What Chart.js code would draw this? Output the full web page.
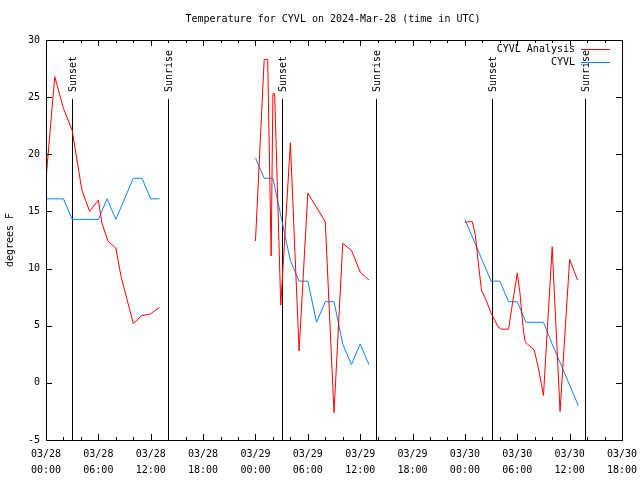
<!DOCTYPE html>
<html>
<head>
<meta charset="utf-8">
<script src="https://cdn.jsdelivr.net/npm/chart.js@4/dist/chart.umd.min.js"></script>
<style>
  html, body { margin: 0; padding: 0; background: #fff; }
  canvas { display: block; }
</style>
</head>
<body>
<canvas id="tempChart" width="640" height="480"></canvas>
<script>
// x values are hours since 03/28 00:00 UTC, null marks a gap in the record
const dayLabels = ['03/28', '03/29', '03/30'];

const analysisHours = [
    0, 1, 2, 3, 4.1, 5, 6, 6.4, 7.1, 8, 8.6, 10, 11, 11.9, 13,
    13.5,
    24, 25, 25.4, 25.8, 26, 26.2, 26.9, 28, 29, 30, 32, 33, 34, 35, 36, 37,
    37.5,
    48, 48.3, 48.85, 49.2, 49.5, 49.9, 50.5, 51, 51.8, 52.2, 53, 53.4, 54, 54.3,
    54.7, 54.9, 55.3, 55.8, 56, 56.5, 57, 58, 58.9, 60, 60.9
];
const analysisTemps = [
    17.8, 26.8, 24.0, 22.1, 16.9, 15.0, 16.0, 14.0, 12.4, 11.8, 9.3, 5.2, 5.9, 6.0, 6.6,
    null,
    12.4, 28.3, 28.3, 11.1, 25.3, 25.3, 6.8, 21.0, 2.8, 16.6, 14.1, -2.6, 12.2, 11.6, 9.7, 9.0,
    null,
    14.0, 14.1, 14.1, 12.9, 10.7, 8.1, 7.1, 6.1, 4.9, 4.7, 4.7, 6.7, 9.6, 7.9,
    4.6, 3.6, 3.3, 3.0, 2.7, 1.0, -1.1, 11.9, -2.5, 10.8, 9.0
];

const obsHours = [
    0, 1, 2, 3, 4, 5, 6, 7, 8, 9, 10, 11, 12, 13,
    13.5,
    24, 25, 26, 27, 28, 29, 30, 31, 32, 33, 34, 35, 36, 37,
    37.5,
    48, 49, 50, 51, 52, 53, 54, 55, 56, 57, 58, 59, 60, 61
];
const obsTemps = [
    16.1, 16.1, 16.1, 14.3, 14.3, 14.3, 14.3, 16.1, 14.3, 16.1, 17.9, 17.9, 16.1, 16.1,
    null,
    19.7, 17.9, 17.9, 14.3, 10.7, 8.9, 8.9, 5.3, 7.1, 7.1, 3.4, 1.6, 3.4, 1.6,
    null,
    14.3, 12.5, 10.7, 8.9, 8.9, 7.1, 7.1, 5.3, 5.3, 5.3, 3.4, 1.6, -0.2, -2.0
];

const sunsetHours = [3.02, 27.0, 51.05];
const sunriseHours = [13.93, 37.86, 61.75];

const FONT = '10px "DejaVu Sans Mono"';

function toPoints(hours, temps) {
    return hours.map((h, i) => ({ x: h, y: temps[i] }));
}

function crisp(v) {
    return Math.round(v) + 0.5;
}

// frame, inward ticks, sunrise/sunset markers, title, legend, axis title
const decorations = {
    id: 'decorations',
    beforeDatasetsDraw(chart) {
        const ctx = chart.ctx;
        const area = chart.chartArea;
        const xs = chart.scales.x;
        ctx.save();
        ctx.strokeStyle = '#000';
        ctx.fillStyle = '#000';
        ctx.lineWidth = 1;
        ctx.font = FONT;
        const marks = sunsetHours.map(h => [h, 'Sunset']).concat(sunriseHours.map(h => [h, 'Sunrise']));
        marks.forEach(([h, label]) => {
            const px = crisp(xs.getPixelForValue(h));
            ctx.beginPath();
            ctx.moveTo(px, 99);
            ctx.lineTo(px, area.bottom);
            ctx.stroke();
            ctx.save();
            ctx.translate(px + 1, 92);
            ctx.rotate(-Math.PI / 2);
            ctx.textAlign = 'left';
            ctx.textBaseline = 'middle';
            ctx.fillText(label, 0, 0);
            ctx.restore();
        });
        ctx.restore();
    },
    afterDraw(chart) {
        const ctx = chart.ctx;
        const area = chart.chartArea;
        const xs = chart.scales.x;
        const ys = chart.scales.y;
        ctx.save();
        ctx.strokeStyle = '#000';
        ctx.lineWidth = 1;

        ctx.beginPath();
        // x ticks, major every 6 h, minor every 2 h
        for (let h = 0; h <= 66; h += 2) {
            const px = crisp(xs.getPixelForValue(h));
            const len = h % 6 === 0 ? 6 : 3;
            ctx.moveTo(px, area.bottom);
            ctx.lineTo(px, area.bottom - len);
            ctx.moveTo(px, area.top);
            ctx.lineTo(px, area.top + len);
        }
        // y ticks
        for (let v = -5; v <= 30; v += 5) {
            const py = crisp(ys.getPixelForValue(v));
            ctx.moveTo(area.left, py);
            ctx.lineTo(area.left + 6, py);
            ctx.moveTo(area.right, py);
            ctx.lineTo(area.right - 6, py);
        }
        ctx.stroke();

        ctx.strokeRect(crisp(area.left), crisp(area.top),
            Math.round(area.right - area.left), Math.round(area.bottom - area.top));

        ctx.fillStyle = '#000';
        ctx.font = FONT;
        ctx.textBaseline = 'middle';

        ctx.textAlign = 'center';
        ctx.fillText('Temperature for CYVL on 2024-Mar-28 (time in UTC)', 333, 19);

        ctx.save();
        ctx.translate(10, 240);
        ctx.rotate(-Math.PI / 2);
        ctx.fillText('degrees F', 0, 0);
        ctx.restore();

        // legend
        ctx.textAlign = 'right';
        chart.data.datasets.forEach((ds, i) => {
            const y = 49 + i * 13;
            ctx.fillStyle = '#000';
            ctx.fillText(ds.label, 575, y);
            ctx.strokeStyle = ds.borderColor;
            ctx.beginPath();
            ctx.moveTo(581, crisp(y));
            ctx.lineTo(610, crisp(y));
            ctx.stroke();
        });
        ctx.restore();
    }
};

Chart.defaults.font.family = '"DejaVu Sans Mono"';
Chart.defaults.font.size = 10;
Chart.defaults.color = '#000';

new Chart(document.getElementById('tempChart'), {
    type: 'line',
    data: {
        datasets: [{
            label: 'CYVL Analysis',
            data: toPoints(analysisHours, analysisTemps),
            borderColor: '#ff0000',
            borderWidth: 1,
            pointRadius: 0,
            tension: 0,
            spanGaps: false
        }, {
            label: 'CYVL',
            data: toPoints(obsHours, obsTemps),
            borderColor: '#0a84f5',
            borderWidth: 1,
            pointRadius: 0,
            tension: 0,
            spanGaps: false
        }]
    },
    options: {
        responsive: false,
        animation: false,
        layout: { padding: { top: 40, right: 18, left: 0, bottom: 0 } },
        plugins: {
            legend: { display: false },
            tooltip: { enabled: false }
        },
        scales: {
            x: {
                type: 'linear',
                min: 0,
                max: 66,
                afterFit: s => {
                    s.height = 40;
                    s.paddingLeft = 0;
                    s.paddingRight = 0;
                },
                grid: { display: false, drawTicks: false },
                border: { display: false },
                ticks: {
                    stepSize: 6,
                    autoSkip: false,
                    maxRotation: 0,
                    padding: 6,
                    font: { lineHeight: 1.6 },
                    callback: v => {
                        const day = Math.floor(v / 24);
                        const hh = String(v % 24).padStart(2, '0');
                        return [dayLabels[day], hh + ':00'];
                    }
                }
            },
            y: {
                min: -5,
                max: 30,
                afterFit: s => {
                    s.width = 46;
                    s.paddingTop = 0;
                    s.paddingBottom = 0;
                },
                grid: { display: false, drawTicks: false },
                border: { display: false },
                ticks: { stepSize: 5, padding: 6 }
            }
        }
    },
    plugins: [decorations]
});
</script>
</body>
</html>
